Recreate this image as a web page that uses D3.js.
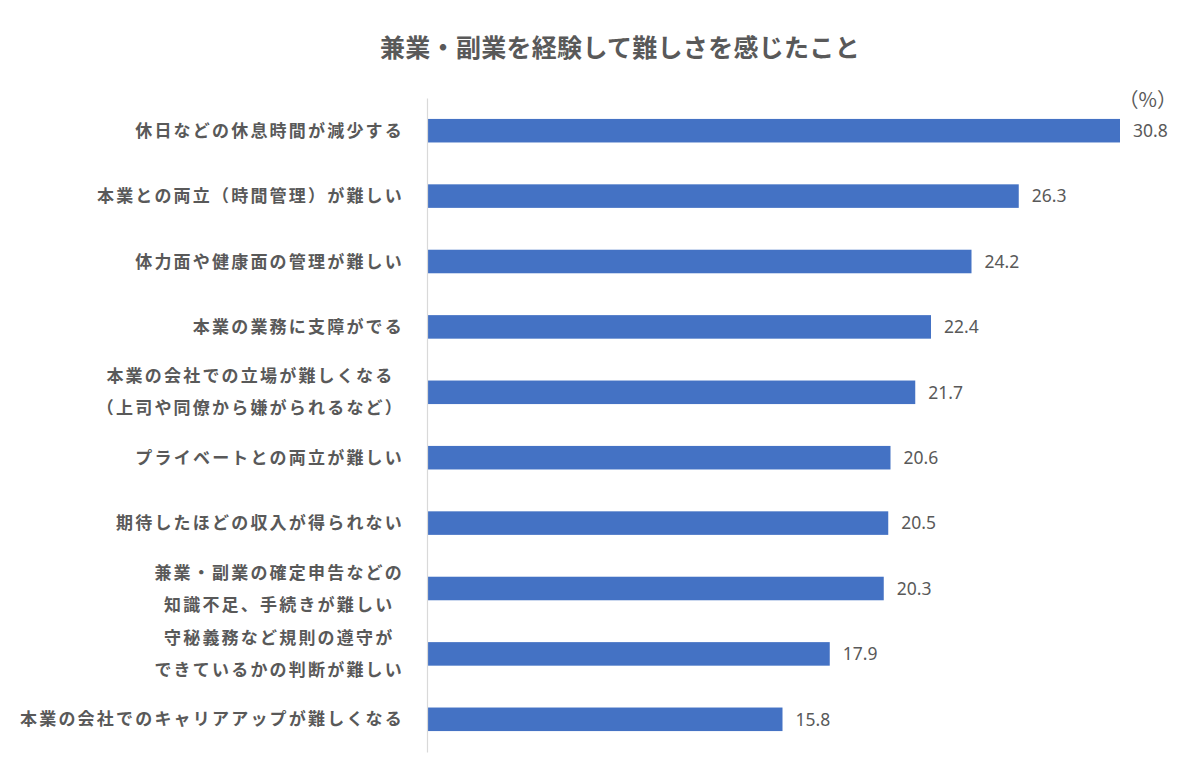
<!DOCTYPE html>
<html>
<head>
<meta charset="utf-8">
<script src="https://cdn.jsdelivr.net/npm/d3@7"></script>
<style>
  body { margin: 0; background: #fff; }
  text { font-family: "Noto Sans CJK JP", "Noto Sans", sans-serif; fill: #595959; }
</style>
</head>
<body>
<div id="chart"></div>
<script>
// data
const categories = [
  ['休日などの休息時間が減少する'],
  ['本業との両立（時間管理）が難しい'],
  ['体力面や健康面の管理が難しい'],
  ['本業の業務に支障がでる'],
  ['本業の会社での立場が難しくなる', '（上司や同僚から嫌がられるなど）'],
  ['プライベートとの両立が難しい'],
  ['期待したほどの収入が得られない'],
  ['兼業・副業の確定申告などの', '知識不足、手続きが難しい'],
  ['守秘義務など規則の遵守が', 'できているかの判断が難しい'],
  ['本業の会社でのキャリアアップが難しくなる']
];
const values = [30.8, 26.3, 24.2, 22.4, 21.7, 20.6, 20.5, 20.3, 17.9, 15.8];
const title = '兼業・副業を経験して難しさを感じたこと';
const unitLabel = '（%）';

const width = 1200;
const height = 760;
const margin = { top: 98, bottom: 8, left: 427, right: 53 };

const svg = d3
  .select('#chart')
  .append('svg')
  .attr('width', width)
  .attr('height', height);

// scales
const xScale = d3
  .scaleLinear()
  .domain([0, 32])
  .range([margin.left, margin.left + 32 * 22.5]);

const yScale = d3
  .scaleBand()
  .domain(d3.range(values.length))
  .range([margin.top, height - margin.bottom])
  .paddingInner(0.64)
  .paddingOuter(0.32);

// title
svg
  .append('text')
  .attr('x', 620)
  .attr('y', 57)
  .attr('text-anchor', 'middle')
  .style('font-size', '25px')
  .style('font-weight', 'bold')
  .style('letter-spacing', '0.3px')
  .text(title);

// bars
svg
  .selectAll('rect.bar')
  .data(values)
  .join('rect')
  .attr('class', 'bar')
  .attr('x', xScale(0))
  .attr('y', (d, i) => yScale(i))
  .attr('width', (d) => xScale(d) - xScale(0))
  .attr('height', yScale.bandwidth())
  .attr('fill', '#4472C4');

// value labels
svg
  .selectAll('text.value')
  .data(values)
  .join('text')
  .attr('class', 'value')
  .attr('x', (d) => xScale(d) + 13)
  .attr('y', (d, i) => yScale(i) + yScale.bandwidth() / 2)
  .attr('dy', '0.36em')
  .style('font-family', '"Noto Sans", sans-serif')
  .style('font-size', '17.5px')
  .text((d) => d.toFixed(1));

// axis (category side)
const yAxis = d3.axisLeft(yScale).tickSize(0).tickFormat('');
svg
  .append('g')
  .attr('transform', `translate(${margin.left},0)`)
  .call(yAxis)
  .call((g) => g.select('.domain').attr('stroke', '#d9d9d9').attr('stroke-width', 1.2));

// category labels, multi-line ones centred in their block
const labelRight = 404;
const lineGap = 32;
const groups = svg
  .selectAll('g.label')
  .data(categories)
  .join('g')
  .attr('class', 'label');

groups.each(function (lines, i) {
  const g = d3.select(this);
  const cy = yScale(i) + yScale.bandwidth() / 2;
  const texts = g
    .selectAll('text')
    .data(lines)
    .join('text')
    .attr('y', (d, j) => cy + (j - (lines.length - 1) / 2) * lineGap)
    .attr('dy', '0.36em')
    .attr('text-anchor', 'middle')
    .style('font-size', '17px')
    .style('font-weight', 'bold')
    .style('letter-spacing', '2.2px')
    .text((d) => d);
  let maxW = 0;
  texts.each(function () {
    maxW = Math.max(maxW, this.getComputedTextLength());
  });
  texts.attr('x', labelRight - maxW / 2);
});

// unit label
svg
  .append('text')
  .attr('x', 1177)
  .attr('y', 100)
  .attr('dy', '0.36em')
  .attr('text-anchor', 'end')
  .style('font-size', '20px')
  .text(unitLabel);
</script>
</body>
</html>
